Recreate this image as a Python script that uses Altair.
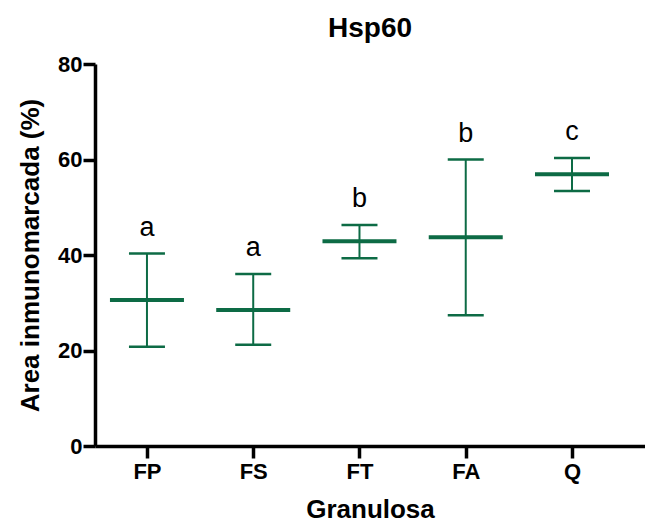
import altair as alt
import pandas as pd

categories = ["FP", "FS", "FT", "FA", "Q"]
means = [30.6, 28.5, 42.9, 43.7, 56.9]
upper = [40.3, 36.0, 46.3, 60.0, 60.3]
lower = [20.8, 21.2, 39.3, 27.4, 53.4]
letters = ["a", "a", "b", "b", "c"]
title_text = "Hsp60"

df = pd.DataFrame({
    "idx": list(range(len(categories))),
    "cat": categories,
    "mean": means,
    "upper": upper,
    "lower": lower,
    "letter": letters,
})

GREEN = "#0d6b45"
FONT = "Liberation Sans"

label_expr = "[" + ",".join(f"'{c}'" for c in categories) + "][datum.value]"

x_axis = alt.Axis(values=list(range(len(categories))), labelExpr=label_expr,
                  title="Granulosa", grid=False, tickSize=12, tickWidth=3.5,
                  domainWidth=3.5, domainColor="black", tickColor="black",
                  labelFont=FONT, labelFontSize=22, labelFontWeight="bold",
                  labelColor="black", labelPadding=3,
                  titleFont=FONT, titleFontSize=26, titleFontWeight="bold",
                  titleColor="black", titlePadding=14)
x_scale = alt.Scale(domain=[-0.489, 4.687], nice=False, zero=False)
x = alt.X("idx:Q", scale=x_scale, axis=x_axis)

y_axis = alt.Axis(values=[0, 20, 40, 60, 80], title="Area inmunomarcada (%)",
                  grid=False, tickSize=12, tickWidth=3.5, domainWidth=3.5,
                  domainColor="black", tickColor="black",
                  labelFont=FONT, labelFontSize=22, labelFontWeight="bold",
                  labelColor="black", labelPadding=1,
                  titleFont=FONT, titleFontSize=26, titleFontWeight="bold",
                  titleColor="black", titlePadding=14)
y_scale = alt.Scale(domain=[0, 80], nice=False)


def Y(field):
    return alt.Y(field, scale=y_scale, axis=y_axis)


base = alt.Chart(df)

whisker = base.mark_rule(color=GREEN, strokeWidth=2).encode(
    x=x, y=Y("lower:Q"), y2="upper:Q")
cap_hi = base.mark_tick(color=GREEN, opacity=1, orient="horizontal", size=36,
                        thickness=2.5).encode(x=x, y=Y("upper:Q"))
cap_lo = base.mark_tick(color=GREEN, opacity=1, orient="horizontal", size=36,
                        thickness=2.5).encode(x=x, y=Y("lower:Q"))
mean_bar = base.mark_tick(color=GREEN, opacity=1, orient="horizontal", size=74,
                          thickness=4).encode(x=x, y=Y("mean:Q"))
text = base.mark_text(font=FONT, fontSize=27, color="black", baseline="alphabetic",
                      dy=-18).encode(x=x, y=Y("upper:Q"), text="letter:N")

title = alt.Chart(pd.DataFrame({"t": [title_text]})).mark_text(
    font=FONT, fontSize=28, fontWeight="bold", color="black",
    baseline="alphabetic", align="center").encode(
    x=alt.value(275), y=alt.value(-27), text="t:N")

chart = alt.layer(whisker, cap_hi, cap_lo, mean_bar, text, title).properties(
    width=550, height=382,
    background="white",
    autosize=alt.AutoSizeParams(type="none"),
    padding={"left": 87, "top": 56, "right": 0, "bottom": 78},
).configure_axis(grid=False).configure_view(strokeWidth=0, stroke=None)

chart.save("out.html", embed_options={"renderer": "svg", "actions": False})
